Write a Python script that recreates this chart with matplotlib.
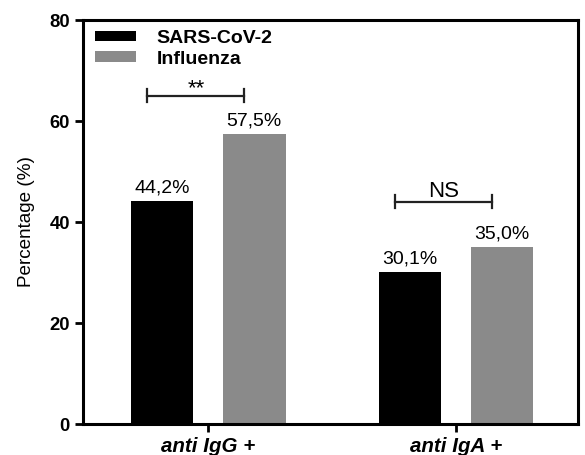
import matplotlib
matplotlib.use('Agg')
import matplotlib.pyplot as plt
import numpy as np

plt.rcParams['font.family'] = ['Liberation Sans', 'DejaVu Sans']

# data
categories = ['anti IgG +', 'anti IgA +']
series_names = ['SARS-CoV-2', 'Influenza']
sars = [44.2, 30.1]
flu = [57.5, 35.0]
sars_labels = ['44,2%', '30,1%']
flu_labels = ['57,5%', '35,0%']
sig_labels = ['**', 'NS']
sig_heights = [65.0, 44.0]
y_ticks = [0, 20, 40, 60, 80]

colors = ['#000000', '#8a8a8a']

fig = plt.figure(figsize=(5.85, 4.55), dpi=100)
ax = fig.add_axes([0.142, 0.068, 0.846, 0.888])

x = np.arange(len(categories))
width = 0.253
off = 0.186

ax.bar(x - off, sars, width, color=colors[0], label=series_names[0])
ax.bar(x + off, flu, width, color=colors[1], label=series_names[1])

for xi, v, lab in zip(x - off, sars, sars_labels):
    ax.text(xi, v + 1.7, lab, ha='center', va='baseline', fontsize=14)
for xi, v, lab in zip(x + off, flu, flu_labels):
    ax.text(xi, v + 1.7, lab, ha='center', va='baseline', fontsize=14)

# significance brackets
for xi, h, lab in zip(x, sig_heights, sig_labels):
    x0, x1 = xi - 0.245, xi + 0.147
    ax.plot([x0, x1], [h, h], color='#222222', lw=1.6)
    ax.plot([x0, x0], [h - 1.3, h + 1.3], color='#222222', lw=1.6)
    ax.plot([x1, x1], [h - 1.3, h + 1.3], color='#222222', lw=1.6)
    if lab == '**':
        ax.text((x0 + x1) / 2, h + 0.4, lab, ha='center', va='baseline', fontsize=16)
    else:
        ax.text((x0 + x1) / 2, h + 1.0, lab, ha='center', va='baseline', fontsize=16)

ax.set_xlim(-0.504, 1.492)
ax.set_ylim(0, 80)
ax.set_yticks(y_ticks)
ax.set_xticks(x)
ax.set_xticklabels(categories, fontsize=14.8, fontweight='bold', fontstyle='italic')
for t in ax.get_yticklabels():
    t.set_fontweight('bold')
    t.set_fontsize(13.3)
ax.set_ylabel('Percentage (%)', fontsize=13.6)
ax.yaxis.set_label_coords(-0.097, 0.5)

for s in ax.spines.values():
    s.set_linewidth(2.2)
ax.tick_params(axis='both', width=2, length=6, direction='out')

ax.legend(loc='upper left', bbox_to_anchor=(0.024, 0.975), frameon=False,
          prop={'weight': 'bold', 'size': 14}, handlelength=2.1,
          handleheight=0.45, labelspacing=0.18, handletextpad=1.08,
          borderaxespad=0, borderpad=0)

fig.savefig('out.png', dpi=100)
